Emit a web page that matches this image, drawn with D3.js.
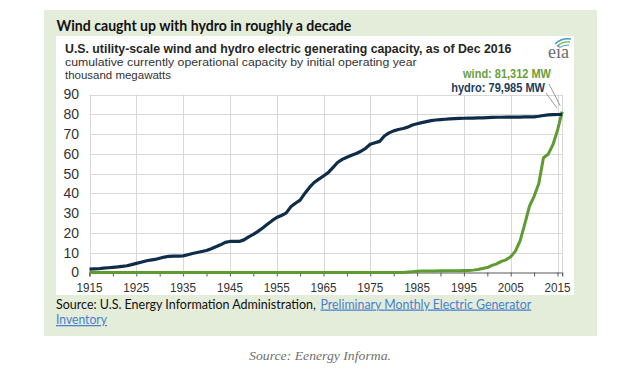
<!DOCTYPE html>
<html>
<head>
<meta charset="utf-8">
<script src="https://cdn.jsdelivr.net/npm/d3@7"></script>
<style>
  html, body { margin: 0; padding: 0; background: #ffffff; }
  svg { display: block; }
</style>
</head>
<body>
<svg id="chart" width="640" height="370"></svg>
<script>
// ---------------- data ----------------
const hydroYears = [
  1915,1916,1917,1918,1919,1920,1921,1922,1923,1924,
  1925,1926,1927,1928,1929,1930,1931,1932,1933,1934,
  1935,1936,1937,1938,1939,1940,1941,1942,1943,1944,
  1945,1946,1947,1948,1949,1950,1951,1952,1953,1954,
  1955,1956,1957,1958,1959,1960,1961,1962,1963,1964,
  1965,1966,1967,1968,1969,1970,1971,1972,1973,1974,
  1975,1976,1977,1978,1979,1980,1981,1982,1983,1984,
  1985,1986,1987,1988,1989,1990,1991,1992,1993,1994,
  1995,1996,1997,1998,1999,2000,2001,2002,2003,2004,
  2005,2006,2007,2008,2009,2010,2011,2012,2013,2014,
  2015,2016
];
const hydroValues = [
  1.7,1.8,1.9,2.2,2.4,2.6,2.8,3.1,3.4,4.0,
  4.6,5.2,5.8,6.3,6.6,7.2,7.8,8.2,8.3,8.3,
  8.4,9.0,9.6,10.1,10.6,11.1,12.0,13.0,14.0,15.2,
  15.7,15.8,15.7,16.5,18.0,19.3,20.8,22.5,24.4,26.2,
  27.8,28.8,30.0,33.2,35.0,36.6,40.0,43.0,45.5,47.2,
  48.8,50.5,53.0,55.6,57.2,58.3,59.3,60.2,61.3,62.8,
  64.8,65.6,66.3,69.0,70.6,71.6,72.3,72.8,73.5,74.6,
  75.2,75.8,76.3,76.8,77.1,77.3,77.5,77.7,77.8,77.9,
  78.0,78.1,78.1,78.2,78.2,78.3,78.4,78.5,78.5,78.6,
  78.6,78.6,78.6,78.7,78.7,78.7,79.0,79.4,79.7,79.8,
  79.9,80.0
];
const windYears = [
  1915,1981,1982,1983,1984,1985,1986,1987,1988,1989,
  1990,1991,1992,1993,1994,1995,1996,1997,1998,1999,
  2000,2001,2002,2003,2004,2005,2006,2007,2008,2009,
  2010,2011,2012,2013,2014,2015,2016
];
const windValues = [
  0,0,0.05,0.2,0.4,0.6,0.7,0.8,0.8,0.8,
  0.9,0.9,0.9,0.9,0.9,1.0,1.0,1.2,1.5,2.0,
  2.5,3.6,4.4,5.6,6.4,8.0,10.8,16.0,24.5,33.5,
  38.5,45.0,58.0,59.8,64.5,72.0,81.3
];
const xTickLabels = [1915,1925,1935,1945,1955,1965,1975,1985,1995,2005,2015];
const xMinorTicks = [1915,1920,1925,1930,1935,1940,1945,1950,1955,1960,1965,1970,1975,1980,1985,1990,1995,2000,2005,2010,2015];
const yTickLabels = [0,10,20,30,40,50,60,70,80,90];

const headline = "Wind caught up with hydro in roughly a decade";
const chartTitle = "U.S. utility-scale wind and hydro electric generating capacity, as of Dec 2016";
const subtitle1 = "cumulative currently operational capacity by initial operating year";
const subtitle2 = "thousand megawatts";
const windLabel = "wind: 81,312 MW";
const hydroLabel = "hydro: 79,985 MW";
const sourcePlain = "Source: U.S. Energy Information Administration,";
const sourceLink1 = "Preliminary Monthly Electric Generator";
const sourceLink2 = "Inventory";
const caption = "Source: Eenergy Informa.";

// ---------------- drawing ----------------
const svg = d3.select("#chart");
const chartFont = "'Liberation Sans Narrow', 'Arial Narrow', 'Liberation Sans', Arial, sans-serif";
const calibriLike = "Lato, 'Open Sans', sans-serif";

// squeeze a text horizontally to a target width with a real transform
function fit(sel, w) {
  sel.each(function () {
    const t = d3.select(this);
    const n = this.getComputedTextLength();
    const x0 = +t.attr("x"), y0 = +t.attr("y");
    const s = n > 0 ? w / n : 1;
    t.attr("x", 0).attr("y", 0)
     .attr("transform", `translate(${x0},${y0}) scale(${s},1)`);
  });
  return sel;
}

// outer green panel
svg.append("rect").attr("x", 44).attr("y", 10).attr("width", 553).attr("height", 326)
  .attr("fill", "#e4edda");
// inner white chart box
svg.append("rect").attr("x", 56).attr("y", 36).attr("width", 518).attr("height", 259)
  .attr("fill", "#ffffff");

// headline
fit(svg.append("text").attr("x", 56.5).attr("y", 30.5)
  .attr("font-family", calibriLike).attr("font-weight", 700).attr("font-size", 14.5)
  .attr("fill", "#111").text(headline), 295);

// chart title & subtitles
fit(svg.append("text").attr("x", 65).attr("y", 52.8)
  .attr("font-family", chartFont).attr("font-weight", 700).attr("font-size", 13.5)
  .attr("fill", "#262626").text(chartTitle), 447);
fit(svg.append("text").attr("x", 65).attr("y", 66.3)
  .attr("font-family", chartFont).attr("font-size", 11.5)
  .attr("fill", "#333").text(subtitle1), 352);
fit(svg.append("text").attr("x", 65).attr("y", 79.2)
  .attr("font-family", chartFont).attr("font-size", 11.5)
  .attr("fill", "#333").text(subtitle2), 106);

// eia logo
const logo = svg.append("g");
logo.append("text").attr("x", 548).attr("y", 58)
  .attr("font-family", "'Liberation Serif', 'DejaVu Serif', serif").attr("font-size", 18)
  .attr("fill", "#6b6b6b").text("eia");
logo.append("path").attr("d", "M555,44 Q562,37.5 571,39").attr("fill", "none")
  .attr("stroke", "#3f9bd5").attr("stroke-width", 1.6);
logo.append("path").attr("d", "M557,46 Q563,41 570,42").attr("fill", "none")
  .attr("stroke", "#7ab648").attr("stroke-width", 1.3);
logo.append("path").attr("d", "M559,48 Q564,44.5 569,45").attr("fill", "none")
  .attr("stroke", "#3f9bd5").attr("stroke-width", 1);

// scales
const x = d3.scaleLinear().domain([1915, 2016]).range([89.5, 562.2]);
const y = d3.scaleLinear().domain([0, 90]).range([272.5, 94.5]);

// gridlines
const grid = svg.append("g").attr("stroke", "#d9d9d9").attr("stroke-width", 1);
grid.selectAll("line.h").data(yTickLabels.filter(d => d > 0)).join("line")
  .attr("x1", x(1915)).attr("x2", x(2016))
  .attr("y1", d => Math.round(y(d)) + 0.5).attr("y2", d => Math.round(y(d)) + 0.5);
grid.selectAll("line.v").data(xTickLabels.concat([2016])).join("line")
  .attr("x1", d => Math.round(x(d)) + 0.5).attr("x2", d => Math.round(x(d)) + 0.5)
  .attr("y1", y(90)).attr("y2", y(0));

// x axis
const xAxis = d3.axisBottom(x).tickValues(xMinorTicks).tickSize(4).tickFormat("");
const gx = svg.append("g").attr("transform", `translate(0,${y(0)})`).call(xAxis);
gx.select(".domain").attr("stroke", "#595959").attr("stroke-width", 1.2);
gx.selectAll(".tick line").attr("stroke", "#595959");
fit(svg.append("g").selectAll("text").data(xTickLabels).join("text")
  .attr("x", d => x(d)).attr("y", 291.5).attr("text-anchor", "middle")
  .attr("font-family", chartFont).attr("font-size", 13.5).attr("fill", "#333")
  .text(d => d), 26);

// y axis labels
const yAxis = d3.axisLeft(y).tickValues(yTickLabels).tickSize(0).tickPadding(0);
const gy = svg.append("g").attr("transform", "translate(79,0)").call(yAxis);
gy.select(".domain").remove();
gy.selectAll(".tick text").attr("font-family", chartFont).attr("font-size", 14)
  .attr("fill", "#333");

// lines
const line = d3.line().x(d => x(d[0])).y(d => y(d[1]));
const hydroData = hydroYears.map((yr, i) => [yr, hydroValues[i]]);
const windData = windYears.map((yr, i) => [yr, windValues[i]]);

svg.append("path").datum(windData).attr("d", line)
  .attr("fill", "none").attr("stroke", "#5e9b32").attr("stroke-width", 3)
  .attr("stroke-linejoin", "round");
svg.append("path").datum(hydroData).attr("d", line)
  .attr("fill", "none").attr("stroke", "#0f2d48").attr("stroke-width", 3.2)
  .attr("stroke-linejoin", "round");

// end labels + leaders
const lastX = x(windYears[windYears.length - 1]);
const windEndY = y(windValues[windValues.length - 1]);
const hydroEndY = y(hydroValues[hydroValues.length - 1]);

fit(svg.append("text").attr("x", 551).attr("y", 78).attr("text-anchor", "end")
  .attr("font-family", chartFont).attr("font-weight", 700).attr("font-size", 12)
  .attr("fill", "#6a9d3c").text(windLabel), 88);
fit(svg.append("text").attr("x", 545).attr("y", 91.6).attr("text-anchor", "end")
  .attr("font-family", chartFont).attr("font-weight", 700).attr("font-size", 12)
  .attr("fill", "#1c3c5c").text(hydroLabel), 94);

svg.append("line").attr("x1", 549).attr("y1", 84).attr("x2", lastX - 2).attr("y2", windEndY - 6)
  .attr("stroke", "#9a9a9a").attr("stroke-width", 1);
svg.append("line").attr("x1", 546).attr("y1", 93).attr("x2", lastX - 5).attr("y2", hydroEndY - 6)
  .attr("stroke", "#9a9a9a").attr("stroke-width", 1);

// source lines
fit(svg.append("text").attr("x", 56).attr("y", 308.5)
  .attr("font-family", calibriLike).attr("font-size", 12.5).attr("fill", "#111")
  .text(sourcePlain), 260);
fit(svg.append("text").attr("x", 320.5).attr("y", 308.5)
  .attr("font-family", calibriLike).attr("font-size", 12.5).attr("fill", "#4a7ecf")
  .attr("text-decoration", "underline").text(sourceLink1), 211);
fit(svg.append("text").attr("x", 56).attr("y", 324)
  .attr("font-family", calibriLike).attr("font-size", 12.5).attr("fill", "#4a7ecf")
  .attr("text-decoration", "underline").text(sourceLink2), 51);

// caption
fit(svg.append("text").attr("x", 320).attr("y", 360).attr("text-anchor", "middle")
  .attr("font-family", "'Liberation Serif', 'DejaVu Serif', serif").attr("font-style", "italic")
  .attr("font-size", 13).attr("fill", "#6f6f6f").text(caption), 142);
</script>
</body>
</html>
